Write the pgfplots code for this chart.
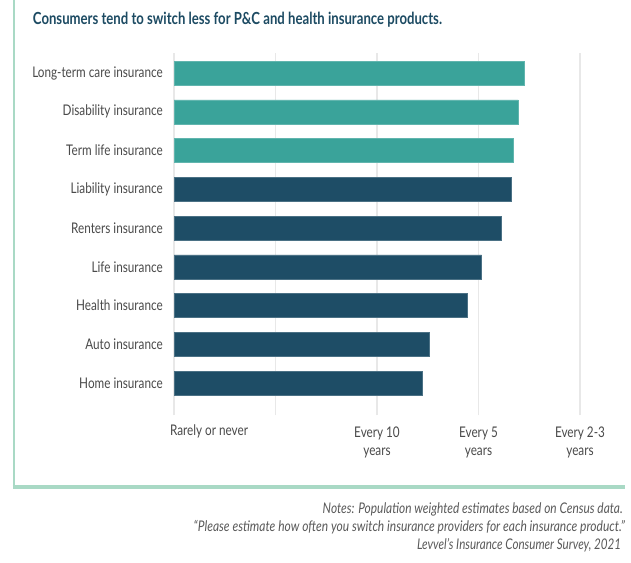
\documentclass[border=0pt]{standalone}
\usepackage{pgfplots}
\pgfplotsset{compat=1.18}
\usepackage{fontspec}
\setmainfont{Lato}
\definecolor{teal1}{HTML}{3AA39A}
\definecolor{navy1}{HTML}{1E4D66}
\definecolor{titlec}{HTML}{1D4B63}
\definecolor{labc}{HTML}{4A4A4A}
\definecolor{notec}{HTML}{5A5A5A}
\definecolor{frame}{HTML}{A9D9C5}
\definecolor{gridc}{HTML}{E8E8E8}
\newcommand\cz[1]{\scalebox{0.80}[1]{#1}}
\begin{document}
\begin{tikzpicture}
\useasboundingbox (0,0) rectangle (473.25pt,-421.5pt);
\fill[white] (0,0) rectangle (473.25pt,-421.5pt);
\draw[frame, line width=2.2pt] (10.5pt,0) -- (10.5pt,-366.5pt);
\draw[frame, line width=2.6pt] (9.4pt,-365.25pt) -- (468.75pt,-365.25pt);
\node[anchor=west, inner sep=0pt, text=titlec, font=\fontsize{12.5}{14}\selectfont\bfseries] at (24.5pt,-15pt) {\resizebox{306.75pt}{\height}{Consumers tend to switch less for P\&C and health insurance products.}};
\begin{axis}[
  at={(130.5pt,-311.25pt)}, anchor=south west,
  scale only axis, width=304.5pt, height=271.5pt,
  xmin=0, xmax=4, ymin=-0.826, ymax=8.516,
  xbar, bar width=18pt, bar shift=0pt,
  axis line style={draw=none},
  major tick length=0pt,
  xmajorgrids, grid style={gridc, line width=0.8pt},
  xtick={0,1,2,3,4},
  xticklabels={{\makebox[0pt][l]{\hspace{-3pt}\cz{Rarely or never}}},{},{\cz{\begin{tabular}{@{}c@{}}Every 10\\years\end{tabular}}},{\cz{\begin{tabular}{@{}c@{}}Every 5\\years\end{tabular}}},{\cz{\begin{tabular}{@{}c@{}}Every 2-3\\years\end{tabular}}}},
  xticklabel style={anchor=north, inner sep=0pt, yshift=-7pt, text=labc, font=\fontsize{11}{13.5}\selectfont},
  ytick={0,...,8},
  yticklabels={{\cz{Home insurance}},{\cz{Auto insurance}},{\cz{Health insurance}},{\cz{Life insurance}},{\cz{Renters insurance}},{\cz{Liability insurance}},{\cz{Term life insurance}},{\cz{Disability insurance}},{\cz{Long-term care insurance}}},
  yticklabel style={anchor=east, inner sep=0pt, xshift=-8.25pt, text=labc, font=\fontsize{11}{12}\selectfont},
  clip=false,
]
\addplot[fill=navy1, draw=navy1!80!white, line width=0.3pt] coordinates {(2.45,0) (2.51,1) (2.89,2) (3.03,3) (3.22,4) (3.32,5)};
\addplot[fill=teal1, draw=teal1!80!white, line width=0.3pt] coordinates {(3.34,6) (3.39,7) (3.455,8)};
\end{axis}
\begin{scope}[every node/.style={anchor=east, inner sep=0pt, text=notec, font=\fontsize{11}{12}\selectfont\itshape}]
\node at (467.25pt,-382pt) {\resizebox{225pt}{\height}{Notes: Population weighted estimates based on Census data.}};
\node at (468.75pt,-395.25pt) {\resizebox{323.25pt}{\height}{``Please estimate how often you switch insurance providers for each insurance product.''}};
\node at (466pt,-409pt) {\resizebox{153pt}{\height}{Levvel's Insurance Consumer Survey, 2021}};
\end{scope}
\end{tikzpicture}
\end{document}
